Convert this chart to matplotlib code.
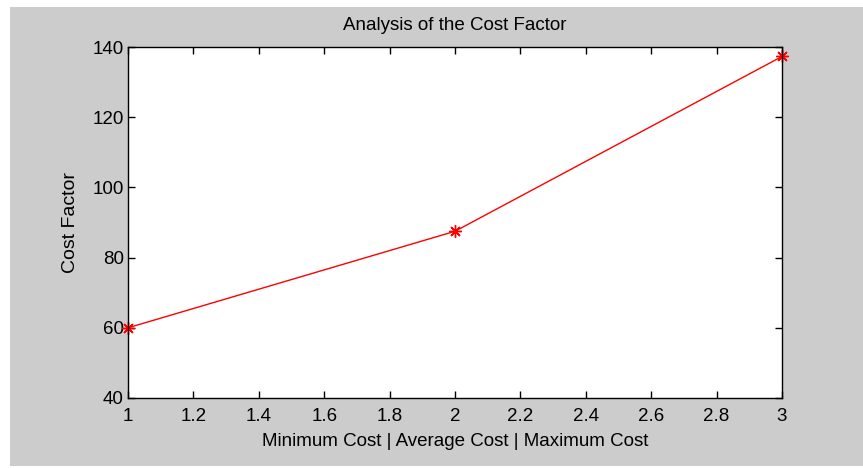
import matplotlib.pyplot as plt
from matplotlib.patches import Rectangle

plt.rcParams['font.family'] = ['Liberation Sans', 'DejaVu Sans']

x = [1, 2, 3]
cost = [60, 87.5, 137.3]
xticks = [1, 1.2, 1.4, 1.6, 1.8, 2, 2.2, 2.4, 2.6, 2.8, 3]
yticks = [40, 60, 80, 100, 120, 140]

fig = plt.figure(figsize=(8.63, 4.68), dpi=100, facecolor='white')
# gray MATLAB-style background
fig.patches.append(Rectangle((10 / 863, 2 / 468), 853 / 863, 459 / 468,
                             transform=fig.transFigure, facecolor='#cccccc',
                             edgecolor='none', zorder=-10))

ax = fig.add_axes([128 / 863, 70 / 468, 654 / 863, 351 / 468])
ax.plot(x, cost, color='red', linewidth=1, marker=(8, 2, 0), markersize=9,
        markeredgewidth=1, clip_on=False)

ax.set_xlim(1, 3)
ax.set_ylim(40, 140)
ax.set_xticks(xticks)
ax.set_xticklabels(['1', '1.2', '1.4', '1.6', '1.8', '2', '2.2', '2.4', '2.6', '2.8', '3'])
ax.set_yticks(yticks)
ax.tick_params(direction='in', top=True, right=True, length=5, width=1,
               labelsize=13.5, colors='black')
ax.tick_params(axis='x', pad=7)
ax.tick_params(axis='y', pad=3)
for s in ax.spines.values():
    s.set_linewidth(1)

ax.set_title('Analysis of the Cost Factor', fontsize=13.5, pad=12)
ax.set_xlabel('Minimum Cost | Average Cost | Maximum Cost', fontsize=13.5, labelpad=6)
ax.set_ylabel('Cost Factor', fontsize=14, labelpad=10)

fig.savefig('out.png', dpi=100, facecolor=fig.get_facecolor())
